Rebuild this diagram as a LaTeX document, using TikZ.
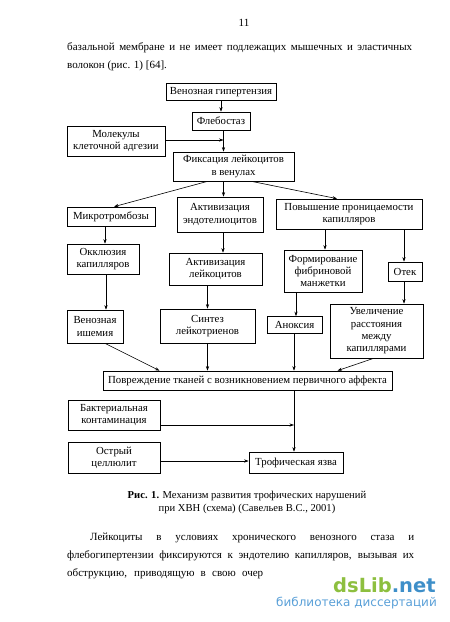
\documentclass[tikz,border=0pt]{standalone}
\usepackage{fontspec}
\setmainfont{Liberation Serif}
\newfontfamily\wmfont{DejaVu Sans}
\newfontfamily\wmboldfont{DejaVu Sans Bold}
\usetikzlibrary{arrows.meta}
\definecolor{wmgreen}{HTML}{8DBF3F}
\definecolor{wmblue}{HTML}{3E8FC9}
\definecolor{wmlblue}{HTML}{5AA0D8}
\newcommand\dfont{\fontsize{10.8}{12.3}\selectfont}
\newcommand\tfont{\fontsize{11}{13}\selectfont}
\newcommand\cfont{\fontsize{10.6}{13}\selectfont}
\begin{document}
\begin{tikzpicture}[x=1pt,y=-1pt,
  box/.style={draw, line width=0.7pt, inner sep=0pt, align=center, font=\dfont},
  arr/.style={-{Stealth[length=4.5pt,width=3.2pt]}, line width=0.6pt},
  txt/.style={inner sep=0pt, font=\tfont, anchor=base west}]
\fill[white] (0,0) rectangle (450,622);
\useasboundingbox (0,0) rectangle (450,622);

% page text
\node[inner sep=0pt, font=\tfont, anchor=base] (pg) at (244,26) {11};
\node[txt] (l1) at (67,50) {\makebox[345pt][s]{базальной мембране и не имеет подлежащих мышечных и эластичных}};
\node[txt] (l2) at (67,68) {волокон (рис. 1) [64].};

% boxes
\node[box, minimum width=110pt, minimum height=17pt] (ven) at (221,92) {Венозная гипертензия};
\node[box, minimum width=58pt, minimum height=18pt] (phleb) at (221,121) {Флебостаз};
\node[box, minimum width=98pt, minimum height=30pt] (molec) at (116,141) {Молекулы\\клеточной адгезии};
\node[box, minimum width=121pt, minimum height=29pt] (fix) at (233.5,166.5) {Фиксация лейкоцитов\\в венулах};
\node[box, minimum width=88pt, minimum height=19pt] (micro) at (111,216.5) {Микротромбозы};
\node[box, minimum width=86pt, minimum height=35pt] (aktend) at (220,214.5) {Активизация\\эндотелиоцитов};
\node[box, minimum width=146pt, minimum height=30pt] (perm) at (349,214) {Повышение проницаемости\\капилляров};
\node[box, minimum width=72pt, minimum height=30pt] (okkl) at (103,259) {Окклюзия\\капилляров};
\node[box, minimum width=93pt, minimum height=32pt] (aktleu) at (215.5,269) {Активизация\\лейкоцитов};
\node[box, minimum width=78pt, minimum height=42pt] (fibr) at (323,271) {Формирование\\фибриновой\\манжетки};
\node[box, minimum width=34pt, minimum height=19pt] (otek) at (405,271.5) {Отек};
\node[box, minimum width=56pt, minimum height=33pt] (venisch) at (95,326.5) {Венозная\\ишемия};
\node[box, minimum width=95pt, minimum height=34pt] (synth) at (207.5,326) {Синтез\\лейкотриенов};
\node[box, minimum width=55pt, minimum height=17pt] (anox) at (294.5,325) {Аноксия};
\node[box, minimum width=93pt, minimum height=54pt] (uvel) at (376.5,331) {Увеличение\\расстояния\\между\\капиллярами};
\node[box, minimum width=289pt, minimum height=19pt] (povr) at (247.5,380.5) {Повреждение тканей с возникновением первичного аффекта};
\node[box, minimum width=92pt, minimum height=30pt] (bakt) at (114,415) {Бактериальная\\контаминация};
\node[box, minimum width=92pt, minimum height=31pt] (ostr) at (114,457.5) {Острый\\целлюлит};
\node[box, minimum width=94pt, minimum height=21pt] (trof) at (296,462.5) {Трофическая язва};

\coordinate (cx) at (223.5,140);
\coordinate (jn) at (294,425);

% connectors
\draw[arr] (ven) -- (phleb);
\draw[arr] (phleb.south -| cx) -- (fix.north -| cx);
\draw[arr] (molec.east |- cx) -- (cx);
\draw[arr] ([xshift=-26pt]fix.south) -- ([xshift=3pt]micro.north);
\draw[arr] ([xshift=-10pt]fix.south) -- ([xshift=-10pt]fix.south |- aktend.north);
\draw[arr] ([xshift=18pt]fix.south) -- ([xshift=-12pt]perm.north);
\draw[arr] ([xshift=-6pt]micro.south) -- ([xshift=-6pt]micro.south |- okkl.north);
\draw[arr] ([xshift=3pt]okkl.south) -- ([xshift=3pt]okkl.south |- venisch.north);
\draw[arr] ([xshift=3pt]aktend.south) -- ([xshift=3pt]aktend.south |- aktleu.north);
\draw[arr] (synth.north |- aktleu.south) -- (synth.north);
\draw[arr] ([xshift=2pt]fibr.north |- perm.south) -- ([xshift=2pt]fibr.north);
\draw[arr] ([xshift=-1pt]otek.north |- perm.south) -- ([xshift=-1pt]otek.north);
\draw[arr] ([xshift=1.5pt]anox.north |- fibr.south) -- ([xshift=1.5pt]anox.north);
\draw[arr] ([xshift=-1pt]otek.south) -- ([xshift=-1pt]otek.south |- uvel.north);
\draw[arr] ([xshift=10pt]venisch.south) -- ([xshift=-88pt]povr.north);
\draw[arr] (synth.south) -- (synth.south |- povr.north);
\draw[arr] ([xshift=-0.5pt]anox.south) -- ([xshift=-0.5pt]anox.south |- povr.north);
\draw[arr] ([xshift=-3pt]uvel.south) -- ([xshift=90pt]povr.north);
\draw[arr] (povr.south -| jn) -- (trof.north -| jn);
\draw[arr] (bakt.east |- jn) -- (jn);
\draw[arr] ([yshift=-3.5pt]ostr.east) -- ([yshift=-3.5pt]ostr.east -| trof.west);

% caption
\node[inner sep=0pt, font=\cfont, anchor=base] (cap1) at (247,498) {\textbf{Рис. 1.} Механизм развития трофических нарушений};
\node[inner sep=0pt, font=\cfont, anchor=base] (cap2) at (247,511) {при ХВН (схема) (Савельев В.С., 2001)};

% body
\node[txt] (b1) at (90,540) {\makebox[324pt][s]{Лейкоциты в условиях хронического венозного стаза и}};
\node[txt] (b2) at (67,558) {\makebox[347pt][s]{флебогипертензии фиксируются к эндотелию капилляров, вызывая их}};
\node[txt] (b3) at (67,576) {\makebox[196pt][s]{обструкцию, приводящую в свою очер}};

% watermark
\node[inner sep=0pt, anchor=base west, font=\wmboldfont\fontsize{19.5}{20}\selectfont] (wm1) at (333,592) {\textcolor{wmgreen}{dsLib}\textcolor{wmblue}{.net}};
\node[inner sep=0pt, anchor=base west, font=\wmfont\fontsize{12}{14}\selectfont, text=wmlblue] (wm2) at (276,606) {библиотека диссертаций};
\end{tikzpicture}
\end{document}
